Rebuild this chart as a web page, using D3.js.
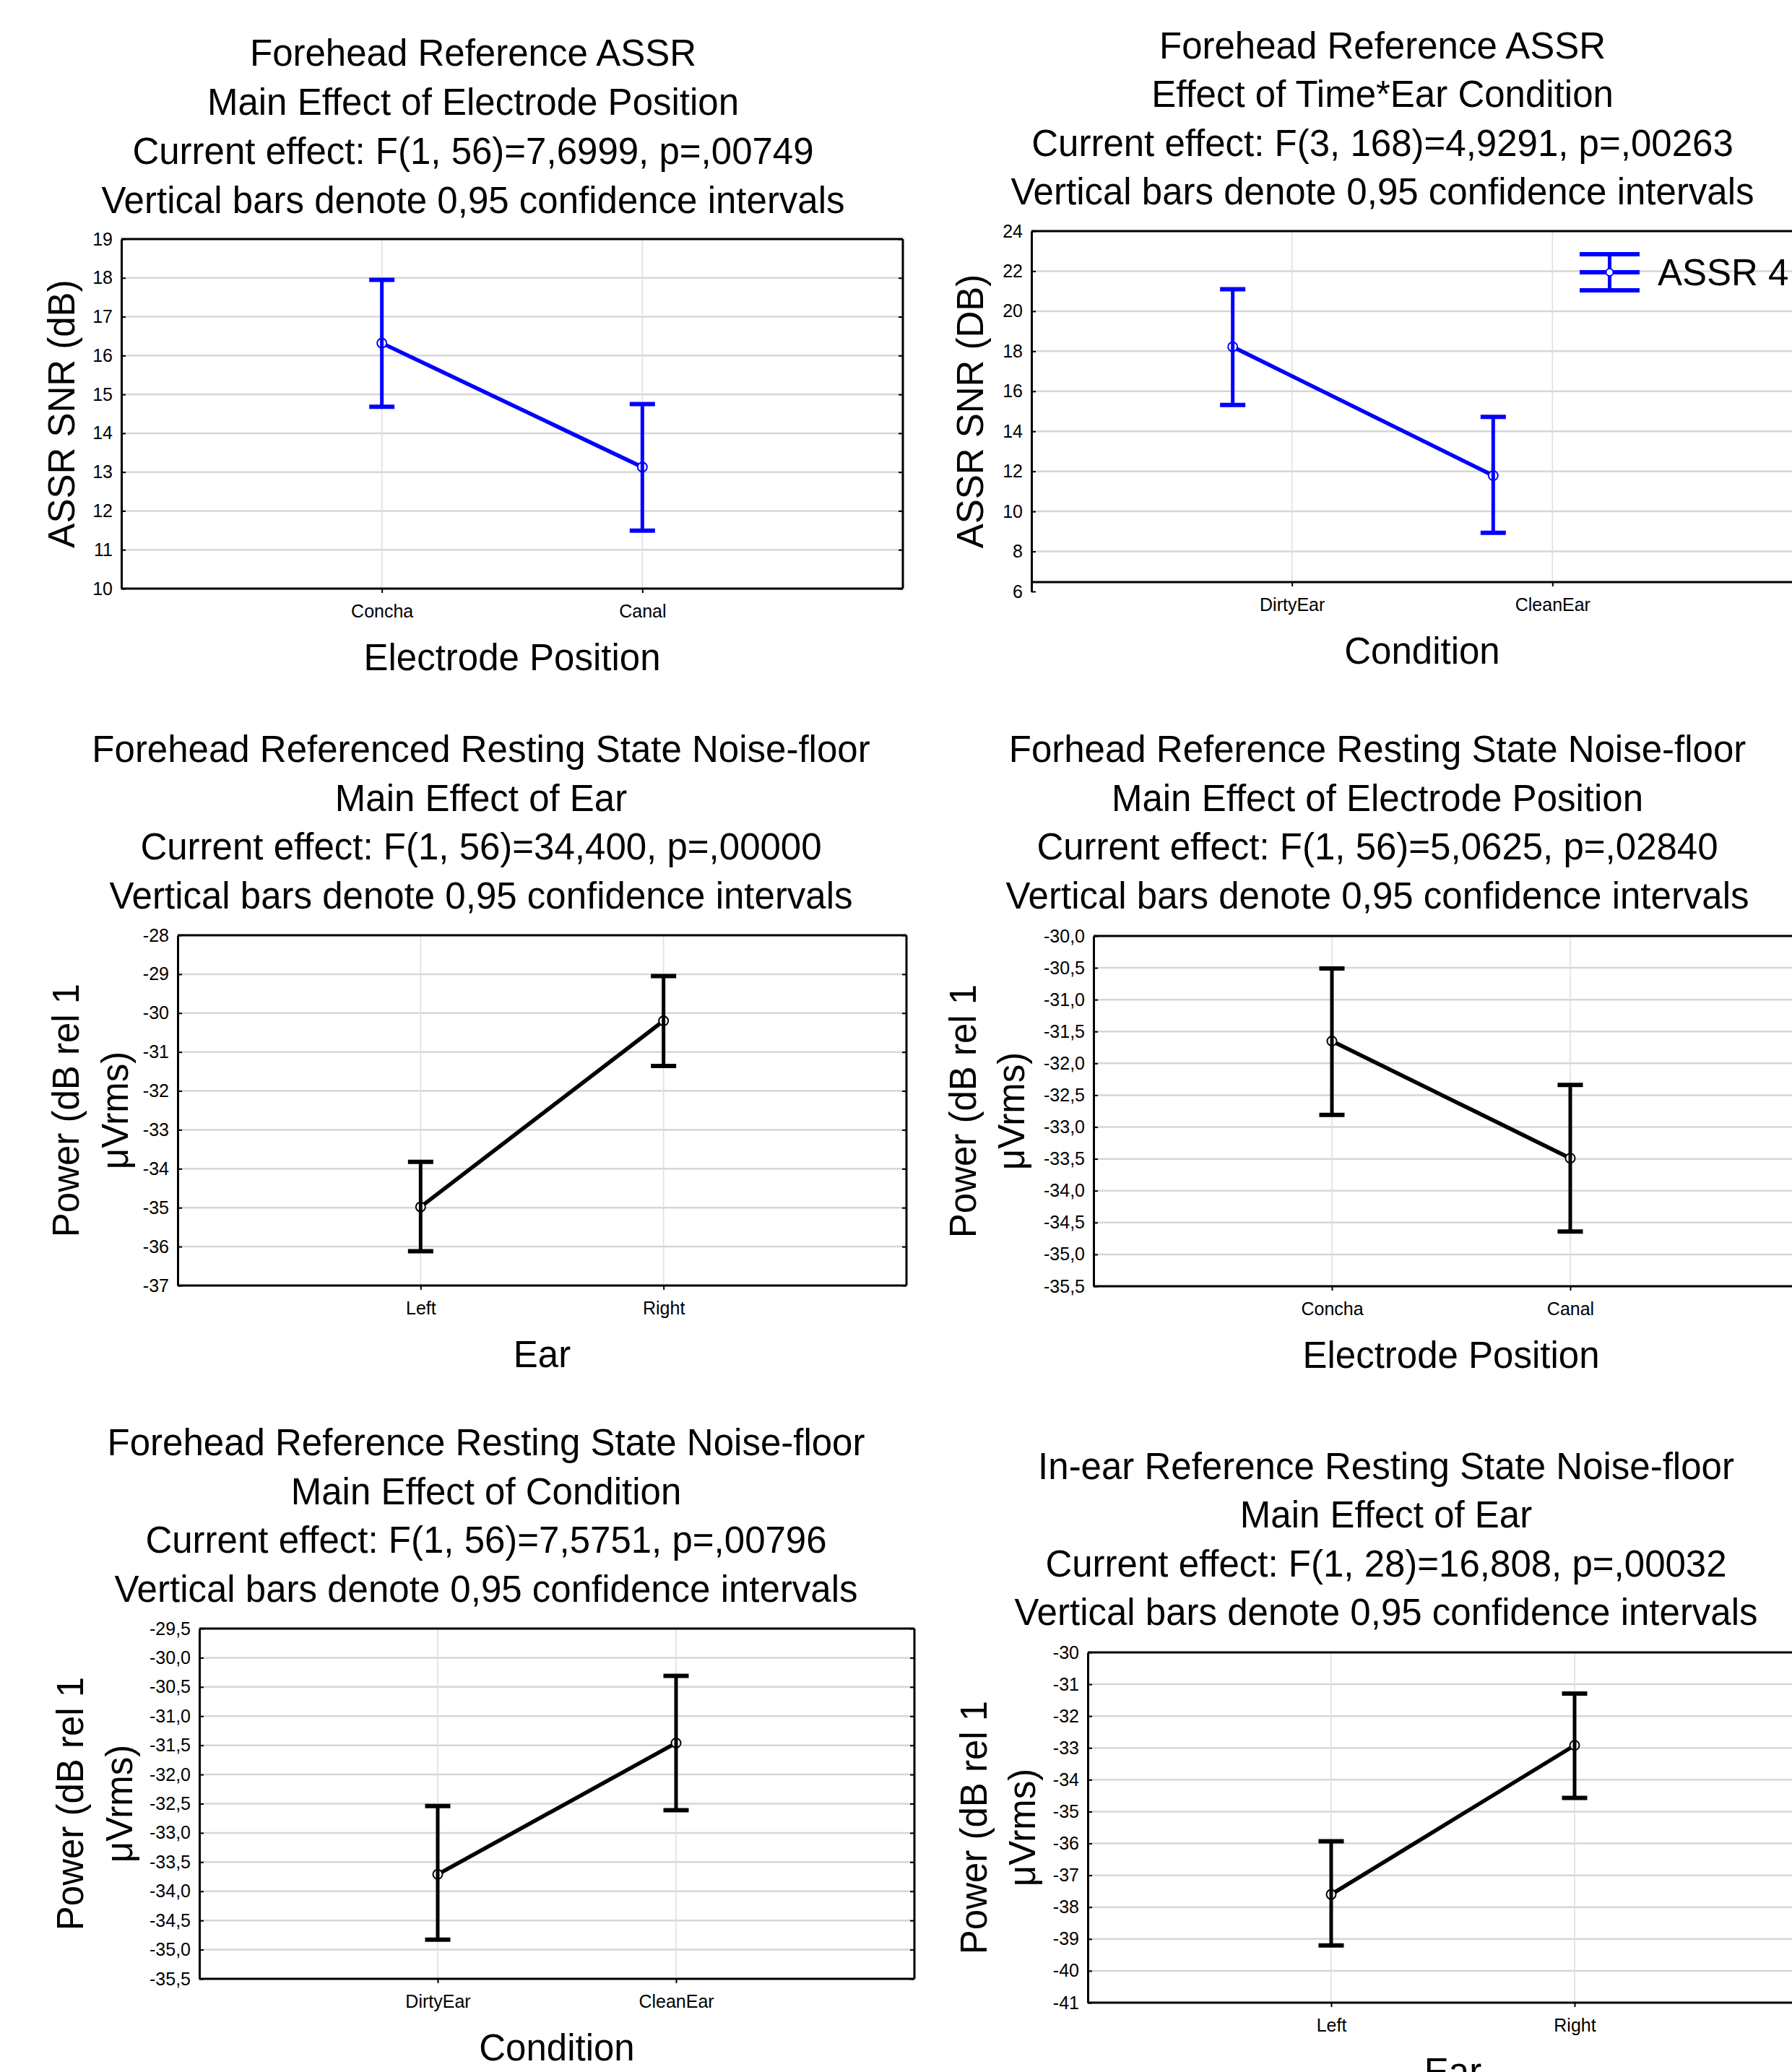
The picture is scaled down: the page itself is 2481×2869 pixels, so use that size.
<!DOCTYPE html>
<html>
<head>
<meta charset="utf-8">
<script src="https://cdn.jsdelivr.net/npm/d3@7"></script>
<style>
html,body{margin:0;padding:0;background:#fff;overflow:hidden}
svg{display:block}
text{font-family:"Liberation Sans",Arial,sans-serif;fill:#000}
</style>
</head>
<body>
<svg id="chart" width="2481" height="2869"></svg>
<script>
/* ===== Data ===== */
const p1Titles = ['Forehead Reference ASSR','Main Effect of Electrode Position','Current effect: F(1, 56)=7,6999, p=,00749','Vertical bars denote 0,95 confidence intervals'];
const p1Cats = ['Concha','Canal'];
const p1Mean = [16.32, 13.13];
const p1Lo = [14.68, 11.49];
const p1Hi = [17.95, 14.75];
const p1Ticks = [10,11,12,13,14,15,16,17,18,19];
const p1YTitle = ['ASSR SNR (dB)'];
const p1XTitle = 'Electrode Position';

const p2Titles = ['Forehead Reference ASSR','Effect of Time*Ear Condition','Current effect: F(3, 168)=4,9291, p=,00263','Vertical bars denote 0,95 confidence intervals'];
const p2Cats = ['DirtyEar','CleanEar'];
const p2Mean = [18.22, 11.79];
const p2Lo = [15.32, 8.93];
const p2Hi = [21.1, 14.72];
const p2Ticks = [6,8,10,12,14,16,18,20,22,24];
const p2YTitle = ['ASSR SNR (DB)'];
const p2XTitle = 'Condition';
const p2Series = ['ASSR 4'];

const p3Titles = ['Forehead Referenced Resting State Noise-floor','Main Effect of Ear','Current effect: F(1, 56)=34,400, p=,00000','Vertical bars denote 0,95 confidence intervals'];
const p3Cats = ['Left','Right'];
const p3Mean = [-34.98, -30.2];
const p3Lo = [-36.12, -31.36];
const p3Hi = [-33.82, -29.05];
const p3Ticks = [-37,-36,-35,-34,-33,-32,-31,-30,-29,-28];
const p3XTitle = 'Ear';

const p4Titles = ['Forhead Reference Resting State Noise-floor','Main Effect of Electrode Position','Current effect: F(1, 56)=5,0625, p=,02840','Vertical bars denote 0,95 confidence intervals'];
const p4Cats = ['Concha','Canal'];
const p4Mean = [-31.65, -33.49];
const p4Lo = [-32.81, -34.64];
const p4Hi = [-30.51, -32.34];
const p4Ticks = [-35.5,-35,-34.5,-34,-33.5,-33,-32.5,-32,-31.5,-31,-30.5,-30];
const p4XTitle = 'Electrode Position';

const p5Titles = ['Forehead Reference Resting State Noise-floor','Main Effect of Condition','Current effect: F(1, 56)=7,5751, p=,00796','Vertical bars denote 0,95 confidence intervals'];
const p5Cats = ['DirtyEar','CleanEar'];
const p5Mean = [-33.71, -31.46];
const p5Lo = [-34.83, -32.61];
const p5Hi = [-32.54, -30.31];
const p5Ticks = [-35.5,-35,-34.5,-34,-33.5,-33,-32.5,-32,-31.5,-31,-30.5,-30,-29.5];
const p5XTitle = 'Condition';

const p6Titles = ['In-ear Reference Resting State Noise-floor','Main Effect of Ear','Current effect: F(1, 28)=16,808, p=,00032','Vertical bars denote 0,95 confidence intervals'];
const p6Cats = ['Left','Right'];
const p6Mean = [-37.6, -32.92];
const p6Lo = [-39.2, -34.57];
const p6Hi = [-35.93, -31.29];
const p6Ticks = [-41,-40,-39,-38,-37,-36,-35,-34,-33,-32,-31,-30];
const p6XTitle = 'Ear';

const powerYTitle = ['Power (dB rel 1', 'μVrms)'];

/* ===== Layout ===== */
const BLUE = '#0000ff', BLACK = '#000';
const panels = [
  {titles:p1Titles, tx:655, ty:91, gap:68, cats:p1Cats, mean:p1Mean, lo:p1Lo, hi:p1Hi, ticks:p1Ticks, dec:0,
   yTitle:p1YTitle, yTitleX:[103], xTitle:p1XTitle, box:{l:168,t:331,w:1082,b:815}, color:BLUE, shift:0},
  {titles:p2Titles, tx:1914, ty:81, gap:67.3, cats:p2Cats, mean:p2Mean, lo:p2Lo, hi:p2Hi, ticks:p2Ticks, dec:0,
   yTitle:p2YTitle, yTitleX:[1361], xTitle:p2XTitle, box:{l:1428,t:320,w:1082,b:819}, frameMin:6.47, color:BLUE, shift:-82,
   legend:{x:2187, y:377, w:83, h:50, label:p2Series[0]}},
  {titles:p3Titles, tx:666, ty:1055, gap:67.7, cats:p3Cats, mean:p3Mean, lo:p3Lo, hi:p3Hi, ticks:p3Ticks, dec:0,
   yTitle:powerYTitle, yTitleX:[109,177], xTitle:p3XTitle, box:{l:246,t:1295,w:1009,b:1780}, color:BLACK, shift:0},
  {titles:p4Titles, tx:1907, ty:1055, gap:67.7, cats:p4Cats, mean:p4Mean, lo:p4Lo, hi:p4Hi, ticks:p4Ticks, dec:1,
   yTitle:powerYTitle, yTitleX:[1351,1418], xTitle:p4XTitle, box:{l:1514,t:1296,w:990,b:1781}, color:BLACK, shift:0},
  {titles:p5Titles, tx:673, ty:2015, gap:67.7, cats:p5Cats, mean:p5Mean, lo:p5Lo, hi:p5Hi, ticks:p5Ticks, dec:1,
   yTitle:powerYTitle, yTitleX:[115,183], xTitle:p5XTitle, box:{l:276,t:2255,w:990,b:2740}, color:BLACK, shift:0},
  {titles:p6Titles, tx:1919, ty:2048, gap:67.3, cats:p6Cats, mean:p6Mean, lo:p6Lo, hi:p6Hi, ticks:p6Ticks, dec:0,
   yTitle:powerYTitle, yTitleX:[1366,1433], xTitle:p6XTitle, box:{l:1506,t:2288,w:1011,b:2773}, color:BLACK, shift:0}
];

const svg = d3.select('#chart');
const fmtTick = dec => v => dec ? v.toFixed(dec).replace('.', ',') : String(v);

function drawPanel(p){
  const {l,t,w,b} = p.box;
  const g = svg.append('g');
  const x = d3.scalePoint().domain(p.cats).range([l, l+w]).padding(1);
  const y = d3.scaleLinear().domain(d3.extent(p.ticks)).range([b, t]);
  const fb = p.frameMin != null ? y(p.frameMin) : b;   // bottom frame line

  // titles
  g.append('g').selectAll('text').data(p.titles).join('text')
    .attr('x', p.tx).attr('y', (d,i)=> p.ty + i*p.gap)
    .attr('text-anchor','middle').attr('font-size',51).text(d=>d);

  // grid
  g.append('g').selectAll('line').data(p.ticks.filter(v => y(v) <= fb + 0.5)).join('line')
    .attr('x1', l).attr('x2', l+w).attr('y1', d=>y(d)).attr('y2', d=>y(d))
    .attr('stroke','#d6d6d6').attr('stroke-width',2.5);
  g.append('g').selectAll('line').data(p.cats).join('line')
    .attr('x1', d=>x(d)).attr('x2', d=>x(d)).attr('y1', t).attr('y2', fb)
    .attr('stroke','#dedede').attr('stroke-width',1.5);

  // axes + frame
  const yl = g.append('g').attr('transform',`translate(${l},0)`)
    .call(d3.axisLeft(y).tickValues(p.ticks).tickFormat(fmtTick(p.dec)).tickSizeInner(-6).tickSizeOuter(0).tickPadding(12));
  const yr = g.append('g').attr('transform',`translate(${l+w},0)`)
    .call(d3.axisRight(y).tickValues(p.ticks.filter(v => y(v) <= fb + 0.5)).tickFormat('').tickSizeInner(-6).tickSizeOuter(0));
  yr.select('.domain').attr('d', `M0,${t}V${fb}`);
  const xa = g.append('g').attr('transform',`translate(0,${fb})`)
    .call(d3.axisBottom(x).tickSizeInner(6).tickSizeOuter(0));
  xa.select('.domain').attr('d', `M${l},0H${l+w}`);
  g.append('line').attr('x1',l).attr('x2',l+w).attr('y1',t).attr('y2',t).attr('stroke','#000').attr('stroke-width',3);

  [yl, yr, xa].forEach(a => {
    a.select('.domain').attr('stroke','#000').attr('stroke-width',3);
    a.selectAll('.tick line').attr('stroke','#000').attr('stroke-width',2);
    a.selectAll('.tick text').attr('font-size',25).style('fill','#000');
  });
  xa.selectAll('.tick text').attr('dy', null).attr('y', 40);

  // axis titles
  g.append('text').attr('x', l + w/2).attr('y', fb + 113)
    .attr('text-anchor','middle').attr('font-size',51).text(p.xTitle);
  const yt = g.append('g').attr('transform',`translate(0,${(t+b)/2}) rotate(-90)`);
  yt.selectAll('text').data(p.yTitle).join('text')
    .attr('x',0).attr('y',(d,i)=>p.yTitleX[i])
    .attr('text-anchor','middle').attr('font-size',51).text(d=>d);

  // means + confidence intervals
  const pts = p.cats.map((c,i)=>({cx:x(c)+p.shift, m:p.mean[i], lo:p.lo[i], hi:p.hi[i]}));
  g.append('path').datum(pts)
    .attr('d', d3.line().x(d=>d.cx).y(d=>y(d.m)))
    .attr('fill','none').attr('stroke',p.color).attr('stroke-width',5.5);
  g.append('g').selectAll('circle').data(pts).join('circle')
    .attr('cx',d=>d.cx).attr('cy',d=>y(d.m)).attr('r',6.5)
    .attr('fill','#fff').attr('stroke',p.color).attr('stroke-width',2);
  const eb = g.append('g').attr('stroke',p.color);
  eb.selectAll('line.v').data(pts).join('line').attr('class','v')
    .attr('x1',d=>d.cx).attr('x2',d=>d.cx).attr('y1',d=>y(d.lo)).attr('y2',d=>y(d.hi)).attr('stroke-width',5);
  ['lo','hi'].forEach(k => {
    eb.selectAll('line.'+k).data(pts).join('line').attr('class',k)
      .attr('x1',d=>d.cx-17.5).attr('x2',d=>d.cx+17.5).attr('y1',d=>y(d[k])).attr('y2',d=>y(d[k])).attr('stroke-width',6);
  });

  // legend
  if(p.legend){
    const L = p.legend, lg = g.append('g').attr('stroke',p.color);
    const cx = L.x + L.w/2;
    [-L.h/2, 0, L.h/2].forEach(dy => lg.append('line')
      .attr('x1',L.x).attr('x2',L.x+L.w).attr('y1',L.y+dy).attr('y2',L.y+dy).attr('stroke-width',6));
    lg.append('line').attr('x1',cx).attr('x2',cx).attr('y1',L.y-L.h/2).attr('y2',L.y+L.h/2).attr('stroke-width',5);
    lg.append('circle').attr('cx',cx).attr('cy',L.y).attr('r',5).attr('fill','#fff').attr('stroke-width',2);
    g.append('text').attr('x', L.x + L.w + 25).attr('y', L.y + 18).attr('font-size',51).text(L.label);
  }
}

panels.forEach(drawPanel);
</script>
</body>
</html>
